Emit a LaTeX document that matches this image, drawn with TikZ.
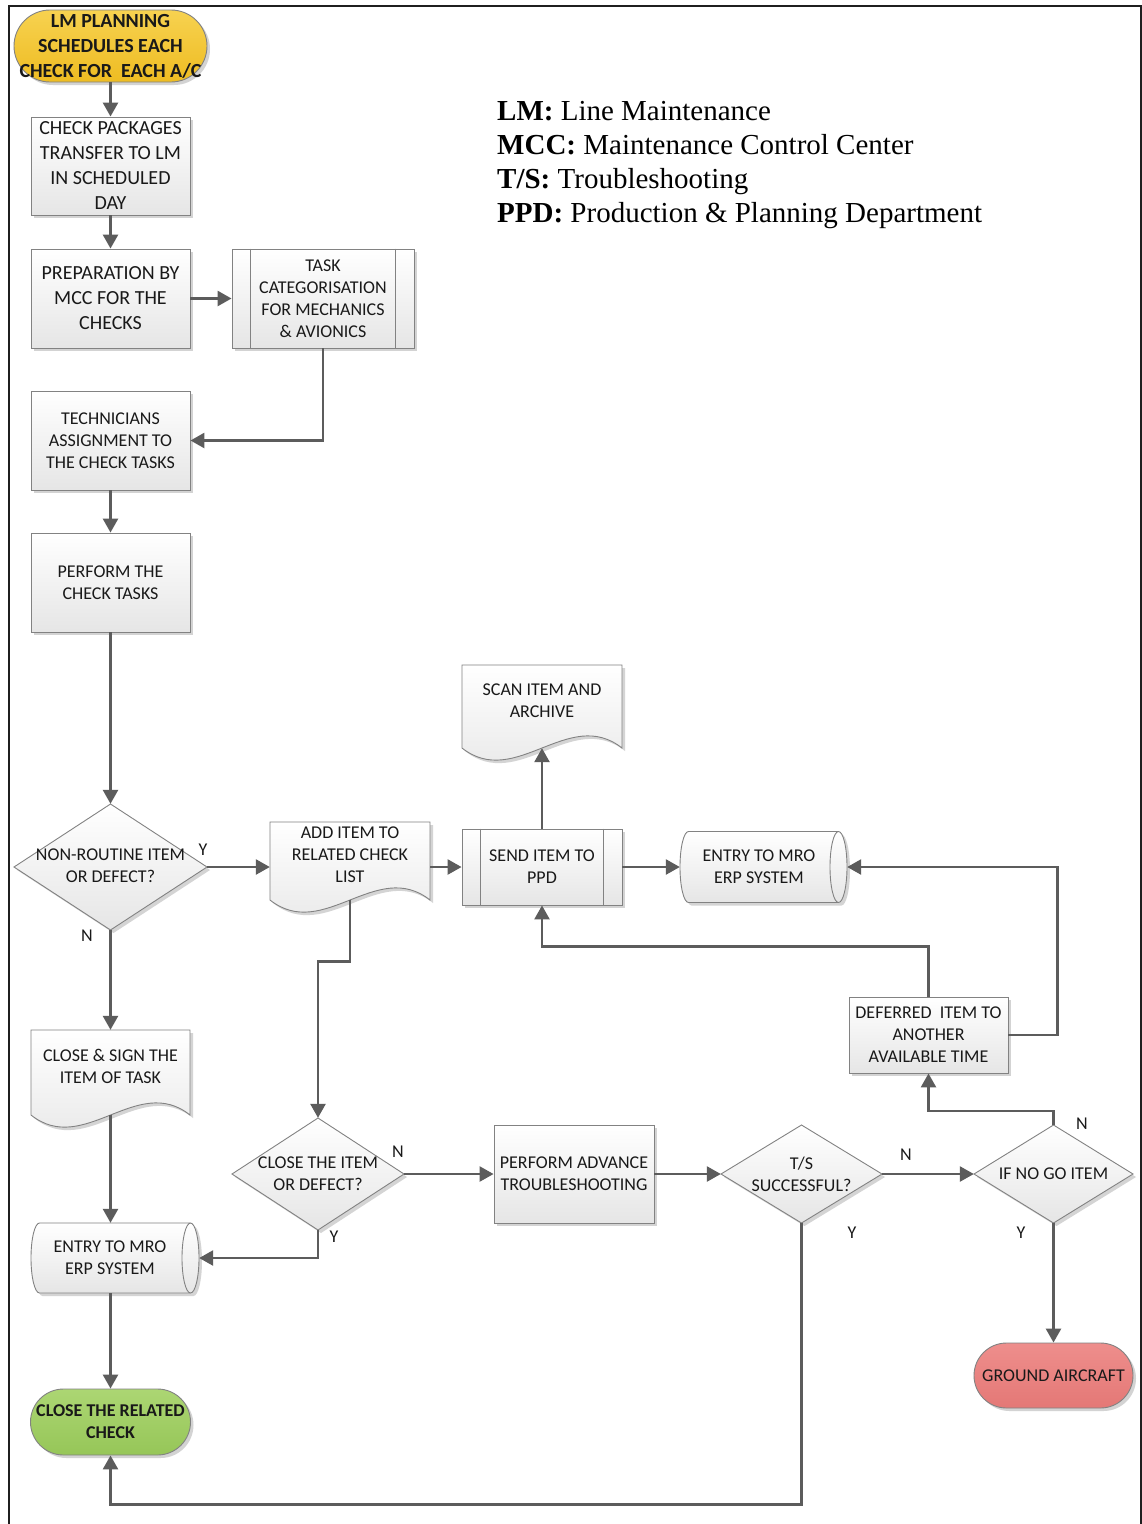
\documentclass[tikz,border=0pt]{standalone}
\usepackage{fontspec}
\setmainfont{Carlito}
\newfontfamily\legfont{Liberation Serif}
\usetikzlibrary{arrows.meta,shadows,calc}
\definecolor{bordc}{RGB}{130,130,130}
\definecolor{linec}{RGB}{92,92,92}
\definecolor{yelA}{RGB}{247,210,80}
\definecolor{yelB}{RGB}{238,188,34}
\definecolor{grnA}{RGB}{172,214,115}
\definecolor{grnB}{RGB}{150,198,88}
\definecolor{redA}{RGB}{238,142,140}
\definecolor{redB}{RGB}{228,120,118}
\definecolor{txtc}{RGB}{25,25,25}
\newcommand\fsA{\fontsize{18}{22}\selectfont}
\newcommand\fsB{\fontsize{20}{25}\selectfont}
% document shape: L T R B
\newcommand\docshape[4]{%
 \pgfmathsetmacro\wA{#1+(#3-#1)/3}\pgfmathsetmacro\wB{#1+2*(#3-#1)/3}%
 \pgfmathsetmacro\bU{#4-42}\pgfmathsetmacro\bD{#4+42}%
 \fill[shcol,shift={(3,3)}] (#1,#2) -- (#3,#2) -- (#3,#4) .. controls (\wB,\bU) and (\wA,\bD) .. (#1,#4) -- cycle;
 \draw[shp] (#1,#2) -- (#3,#2) -- (#3,#4) .. controls (\wB,\bU) and (\wA,\bD) .. (#1,#4) -- cycle;}
% diamond: L T R B
\newcommand\diamshape[4]{%
 \pgfmathsetmacro\cx{(#1+#3)/2}\pgfmathsetmacro\cy{(#2+#4)/2}%
 \fill[shcol,shift={(3,3)}] (\cx,#2) -- (#3,\cy) -- (\cx,#4) -- (#1,\cy) -- cycle;
 \draw[shp] (\cx,#2) -- (#3,\cy) -- (\cx,#4) -- (#1,\cy) -- cycle;}
% horizontal cylinder: L T R B
\newcommand\cylshape[4]{%
 \pgfmathsetmacro\ca{#1+8.5}\pgfmathsetmacro\cb{#3-8.5}%
 \pgfmathsetmacro\my{(#2+#4)/2}\pgfmathsetmacro\ky{0.5523*(#4-#2)/2}%
 \pgfmathsetmacro\kx{0.5523*8.5}%
 \pgfmathsetmacro\myU{\my-\ky}\pgfmathsetmacro\myD{\my+\ky}%
 \pgfmathsetmacro\caL{\ca-\kx}\pgfmathsetmacro\cbR{\cb+\kx}\pgfmathsetmacro\cbL{\cb-\kx}%
 \pgfmathsetmacro\cbI{\cb-8.5}%
 \fill[shcol,shift={(3,3)}] (\ca,#2) -- (\cb,#2) .. controls (\cbR,#2) and (#3,\myU) .. (#3,\my) .. controls (#3,\myD) and (\cbR,#4) .. (\cb,#4) -- (\ca,#4) .. controls (\caL,#4) and (#1,\myD) .. (#1,\my) .. controls (#1,\myU) and (\caL,#2) .. (\ca,#2) -- cycle;
 \draw[shp] (\ca,#2) -- (\cb,#2) .. controls (\cbR,#2) and (#3,\myU) .. (#3,\my) .. controls (#3,\myD) and (\cbR,#4) .. (\cb,#4) -- (\ca,#4) .. controls (\caL,#4) and (#1,\myD) .. (#1,\my) .. controls (#1,\myU) and (\caL,#2) .. (\ca,#2) -- cycle;
 \draw[draw=bordc,line width=0.9pt] (\cb,#2) .. controls (\cbL,#2) and (\cbI,\myU) .. (\cbI,\my) .. controls (\cbI,\myD) and (\cbL,#4) .. (\cb,#4);}
\begin{document}
\begin{tikzpicture}[x=1pt,y=-1pt,
 shp/.style={draw=bordc,line width=0.9pt,top color=white,bottom color=black!10},
 shcol/.style={fill=black!17},
 sh/.style={drop shadow={shadow xshift=3pt,shadow yshift=-3pt,fill=black!34,opacity=0.5}},
 box/.style={shp,sh,inner sep=0pt,align=center,font=\fsA,text=txtc},
 term/.style={draw=bordc,line width=0.9pt,sh,inner sep=0pt,align=center,text=txtc},
 abox/.style={draw=none,inner sep=0pt},
 txt/.style={align=center,font=\fsA,text=txtc,inner sep=0pt},
 lab/.style={font=\fsA,text=txtc,inner sep=0pt},
 conn/.style={draw=linec,line width=2.6pt,-{Triangle[length=14pt,width=15pt]}},
 plain/.style={draw=linec,line width=2.6pt}]
\useasboundingbox (0,0) rectangle (1142,1524);
\fill[white] (0,0) rectangle (1142,1524);
% frame
\draw[line width=2pt,black!88] (9,1524) -- (9,6) -- (1141,6) -- (1141,1524);

% legend
\node[anchor=base west,inner sep=0pt,font=\legfont\fontsize{29}{34}\selectfont] (leg1) at (497,120) {\textbf{LM:} Line Maintenance};
\node[anchor=base west,inner sep=0pt,font=\legfont\fontsize{29}{34}\selectfont] (leg2) at (497,154) {\textbf{MCC:} Maintenance Control Center};
\node[anchor=base west,inner sep=0pt,font=\legfont\fontsize{29}{34}\selectfont] (leg3) at (497,188) {\textbf{T/S:} Troubleshooting};
\node[anchor=base west,inner sep=0pt,font=\legfont\fontsize{29}{34}\selectfont] (leg4) at (497,222) {\textbf{PPD:} Production \& Planning Department};

% left column
\node[term,top color=yelA,bottom color=yelB,minimum width=193pt,minimum height=72pt,rounded corners=36pt,font=\fsB\bfseries] (start) at (110.5,46) {LM PLANNING\\SCHEDULES EACH\\CHECK FOR~ EACH A/C};
\node[box,font=\fsB,minimum width=159pt,minimum height=98pt] (pkg) at (110.5,166) {CHECK PACKAGES\\TRANSFER TO LM\\IN SCHEDULED\\DAY};
\node[box,font=\fsB,minimum width=159pt,minimum height=99pt] (prep) at (110.5,298.5) {PREPARATION BY\\MCC FOR THE\\CHECKS};
\node[box,minimum width=182pt,minimum height=99pt] (task) at (323,298.5) {TASK\\CATEGORISATION\\FOR MECHANICS\\\& AVIONICS};
\draw[draw=bordc,line width=0.9pt] ([xshift=19pt]task.north west) -- ([xshift=19pt]task.south west);
\draw[draw=bordc,line width=0.9pt] ([xshift=-19pt]task.north east) -- ([xshift=-19pt]task.south east);
\node[box,minimum width=159pt,minimum height=99pt] (tech) at (110.5,440.5) {TECHNICIANS\\ASSIGNMENT TO\\THE CHECK TASKS};
\node[box,minimum width=159pt,minimum height=99pt] (perf) at (110.5,582.5) {PERFORM THE\\CHECK TASKS};

% scan item document
\docshape{462}{665}{622}{748}
\node[abox,minimum width=160pt,minimum height=83pt] (scan) at (542,706.5) {};
\node[txt] (scant) at (542,701) {SCAN ITEM AND\\ARCHIVE};

% non-routine diamond
\diamshape{14}{804}{207}{930}
\node[abox,minimum width=193pt,minimum height=126pt] (nonr) at (110.5,867) {};
\node[txt] (nonrt) at (110.5,866) {NON-ROUTINE ITEM\\OR DEFECT?};

% add item document
\docshape{270}{822}{430}{900}
\node[abox,minimum width=160pt,minimum height=78pt] (add) at (350,861) {};
\node[txt] (addt) at (350,855) {ADD ITEM TO\\RELATED CHECK\\LIST};

% send item
\node[box,minimum width=160pt,minimum height=76pt] (send) at (542,867) {SEND ITEM TO\\PPD};
\draw[draw=bordc,line width=0.9pt] ([xshift=19pt]send.north west) -- ([xshift=19pt]send.south west);
\draw[draw=bordc,line width=0.9pt] ([xshift=-19pt]send.north east) -- ([xshift=-19pt]send.south east);

% entry 1 cylinder
\cylshape{680}{831.5}{847}{902.5}
\node[abox,minimum width=167pt,minimum height=71pt] (ent1) at (763.5,867) {};
\node[txt] (ent1t) at (759,867) {ENTRY TO MRO\\ERP SYSTEM};

% deferred
\node[box,minimum width=159pt,minimum height=76pt] (def) at (928.5,1035) {DEFERRED~ ITEM TO\\ANOTHER\\AVAILABLE TIME};

% close & sign document
\docshape{31}{1030}{190}{1115}
\node[abox,minimum width=159pt,minimum height=85pt] (cls) at (110.5,1072.5) {};
\node[txt] (clst) at (110.5,1066) {CLOSE \& SIGN THE\\ITEM OF TASK};

% close item diamond
\diamshape{232}{1118}{404}{1230}
\node[abox,minimum width=172pt,minimum height=112pt] (ci) at (318,1174) {};
\node[txt] (cit) at (318,1174) {CLOSE THE ITEM\\OR DEFECT?};

% advance troubleshooting
\node[box,minimum width=160pt,minimum height=98pt] (adv) at (574,1174) {PERFORM ADVANCE\\TROUBLESHOOTING};

% T/S diamond
\diamshape{721}{1125}{882}{1223}
\node[abox,minimum width=161pt,minimum height=98pt] (ts) at (801.5,1174) {};
\node[txt] (tst) at (801.5,1174) {T/S\\SUCCESSFUL?};

% no go diamond
\diamshape{974}{1125}{1133}{1223}
\node[abox,minimum width=159pt,minimum height=98pt] (ng) at (1053.5,1174) {};
\node[txt] (ngt) at (1053.5,1174) {IF NO GO ITEM};

% entry 2 cylinder
\cylshape{31}{1223}{199}{1293}
\node[abox,minimum width=168pt,minimum height=70pt] (ent2) at (115,1258) {};
\node[txt] (ent2t) at (110,1258) {ENTRY TO MRO\\ERP SYSTEM};

% close related check
\node[term,top color=grnA,bottom color=grnB,minimum width=160pt,minimum height=66pt,rounded corners=33pt,font=\fsA\bfseries] (crel) at (110.5,1422) {CLOSE THE RELATED\\CHECK};

% ground aircraft
\node[term,top color=redA,bottom color=redB,minimum width=159pt,minimum height=65pt,rounded corners=32.5pt,font=\fsA] (ground) at (1053.5,1375.5) {GROUND AIRCRAFT};

% connectors
\draw[conn] (start.south) -- (pkg.north);
\draw[conn] (pkg.south) -- (prep.north);
\draw[conn] (prep.east) -- (task.west);
\draw[conn] (task.south) |- (tech.east);
\draw[conn] (tech.south) -- (perf.north);
\draw[conn] (perf.south) -- (nonr.north);
\draw[conn] (nonr.east) -- (nonr.east -| add.west);
\draw[conn] (nonr.south) -- (cls.north);
\draw[conn] (send.west -| add.east) -- (send.west);
\draw[conn] (add.south) -- ++(0,61) -| (ci.north);
\draw[conn] (send.north) -- (scan.south);
\draw[conn] (send.east) -- (ent1.west);
\draw[conn] (def.north) -- ++(0,-50) -| (send.south);
\draw[conn] (def.east) -- ++(49,0) |- (ent1.east);
\draw[conn] (cls.south) -- (cls.south |- ent2.north);
\draw[conn] (ci.east) -- (adv.west);
\draw[conn] (ci.south) |- (ent2.east);
\draw[conn] (adv.east) -- (ts.west);
\draw[conn] (ts.east) -- (ng.west);
\draw[conn] (ts.south) -- ++(0,281) -| (crel.south);
\draw[conn] (ng.north) -- ++(0,-14) -| (def.south);
\draw[conn] (ng.south) -- (ground.north);
\draw[conn] (ent2.south -| crel.north) -- (crel.north);

% labels
\node[lab] (l1) at (203,850) {Y};
\node[lab] (l2) at (87,936) {N};
\node[lab] (l3) at (398,1152) {N};
\node[lab] (l4) at (334,1237) {Y};
\node[lab] (l5) at (906,1155) {N};
\node[lab] (l6) at (852,1233) {Y};
\node[lab] (l7) at (1082,1124) {N};
\node[lab] (l8) at (1021,1233) {Y};
\end{tikzpicture}
\end{document}
